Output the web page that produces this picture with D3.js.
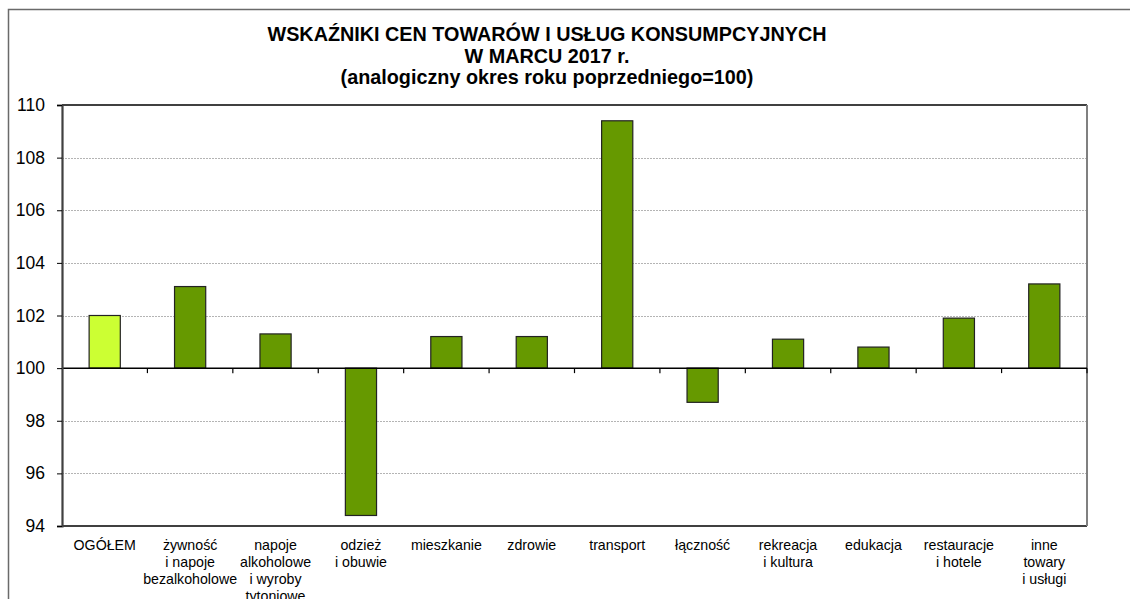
<!DOCTYPE html>
<html>
<head>
<meta charset="utf-8">
<script src="https://cdn.jsdelivr.net/npm/d3@7"></script>
<style>
  body { margin: 0; background: #fff; }
  svg { display: block; font-family: "Liberation Sans", Arial, sans-serif; }
</style>
</head>
<body>
<div class="chart"></div>
<script>
// data
const categories = [
  ["OGÓŁEM"],
  ["żywność", "i napoje", "bezalkoholowe"],
  ["napoje", "alkoholowe", "i wyroby", "tytoniowe"],
  ["odzież", "i obuwie"],
  ["mieszkanie"],
  ["zdrowie"],
  ["transport"],
  ["łączność"],
  ["rekreacja", "i kultura"],
  ["edukacja"],
  ["restauracje", "i hotele"],
  ["inne", "towary", "i usługi"]
]
const values = [102.0, 103.1, 101.3, 94.4, 101.2, 101.2, 109.4, 98.7, 101.1, 100.8, 101.9, 103.2]
const yTicks = [94, 96, 98, 100, 102, 104, 106, 108, 110]
const titleLines = [
  "WSKAŹNIKI CEN TOWARÓW I USŁUG KONSUMPCYJNYCH",
  "W MARCU 2017 r.",
  "(analogiczny okres roku poprzedniego=100)"
]
const baseValue = 100

const width = 1130
const height = 599
const margin = { top: 105, bottom: 73, left: 62, right: 43 }

let svg = d3.select(".chart")
  .append("svg")
  .attr("width", width)
  .attr("height", height)

// outer frame
svg.append("rect")
  .attr("x", 8.5).attr("y", 9.5)
  .attr("width", width + 20).attr("height", height + 20)
  .attr("fill", "none")
  .attr("stroke", "#6a6a6a")
  .attr("stroke-width", 1.5)

// title
svg.append("text")
  .attr("x", 547)
  .attr("text-anchor", "middle")
  .attr("font-weight", "bold")
  .attr("font-size", 19.8)
  .selectAll("tspan")
  .data(titleLines)
  .enter()
  .append("tspan")
  .attr("x", 547)
  .attr("y", (d, i) => 41 + i * 21.5)
  .text(d => d)

const x = d3.scaleBand()
  .domain(d3.range(categories.length))
  .range([margin.left, width - margin.right])
  .padding(0)

const y = d3.scaleLinear()
  .domain([94, 110])
  .range([height - margin.bottom, margin.top])

// grid lines
svg.append("g")
  .selectAll("line")
  .data(yTicks.filter(t => t !== 94 && t !== 110 && t !== baseValue))
  .enter()
  .append("line")
  .attr("x1", margin.left).attr("x2", width - margin.right)
  .attr("y1", d => Math.round(y(d)) + 0.5).attr("y2", d => Math.round(y(d)) + 0.5)
  .attr("stroke", "#b4b4b4")
  .attr("stroke-dasharray", "2,1")

// plot frame: top + bottom black, right grey
svg.append("line")
  .attr("x1", margin.left).attr("x2", width - margin.right)
  .attr("y1", y(110)).attr("y2", y(110))
  .attr("stroke", "#000").attr("stroke-width", 1.5)
svg.append("line")
  .attr("x1", margin.left).attr("x2", width - margin.right)
  .attr("y1", y(94)).attr("y2", y(94))
  .attr("stroke", "#000").attr("stroke-width", 1.5)
svg.append("line")
  .attr("x1", width - margin.right).attr("x2", width - margin.right)
  .attr("y1", y(110)).attr("y2", y(94))
  .attr("stroke", "#808080").attr("stroke-width", 2)

// bars
const barW = x.bandwidth() * 0.365
svg.append("g")
  .selectAll("rect")
  .data(values)
  .enter()
  .append("rect")
  .attr("x", (d, i) => x(i) + (x.bandwidth() - barW) / 2)
  .attr("y", d => y(Math.max(d, baseValue)))
  .attr("width", barW)
  .attr("height", d => Math.abs(y(d) - y(baseValue)))
  .attr("fill", (d, i) => i === 0 ? "#ccff33" : "#669900")
  .attr("stroke", "#222")
  .attr("stroke-width", 1.2)

// base line (100) with category ticks
svg.append("g")
  .attr("transform", `translate(0, ${y(baseValue)})`)
  .call(d3.axisBottom(x).tickValues(d3.range(1, categories.length + 1).map(i => i)).tickFormat("")
    .tickSize(0))
  .call(g => g.select(".domain").remove())
svg.append("line")
  .attr("x1", margin.left).attr("x2", width - margin.right)
  .attr("y1", y(baseValue)).attr("y2", y(baseValue))
  .attr("stroke", "#000").attr("stroke-width", 1.5)
svg.append("g")
  .selectAll("line")
  .data(d3.range(1, categories.length + 1))
  .enter()
  .append("line")
  .attr("x1", d => margin.left + d * x.step()).attr("x2", d => margin.left + d * x.step())
  .attr("y1", y(baseValue)).attr("y2", y(baseValue) + 5)
  .attr("stroke", "#000").attr("stroke-width", 1.2)

// y axis
let yAxis = svg.append("g")
  .attr("transform", `translate(${margin.left}, 0)`)
  .call(d3.axisLeft(y).tickValues(yTicks).tickSize(5).tickPadding(12).tickFormat(d3.format("d")))
yAxis.select(".domain").attr("stroke", "#404040").attr("stroke-width", 2.2)
yAxis.selectAll(".tick line").attr("stroke", "#000")
yAxis.selectAll(".tick text")
  .attr("font-size", 17.5)
  .attr("font-family", "Liberation Sans, Arial, sans-serif")
  .attr("fill", "#000")

// category labels
svg.append("g")
  .selectAll("text")
  .data(categories)
  .enter()
  .append("text")
  .attr("text-anchor", "middle")
  .attr("font-size", 14.2)
  .attr("fill", "#000")
  .each(function(lines, i) {
    d3.select(this).selectAll("tspan")
      .data(lines)
      .enter()
      .append("tspan")
      .attr("x", x(i) + x.bandwidth() / 2)
      .attr("y", (d, j) => 550 + j * 17)
      .text(d => d)
  })
</script>
</body>
</html>
